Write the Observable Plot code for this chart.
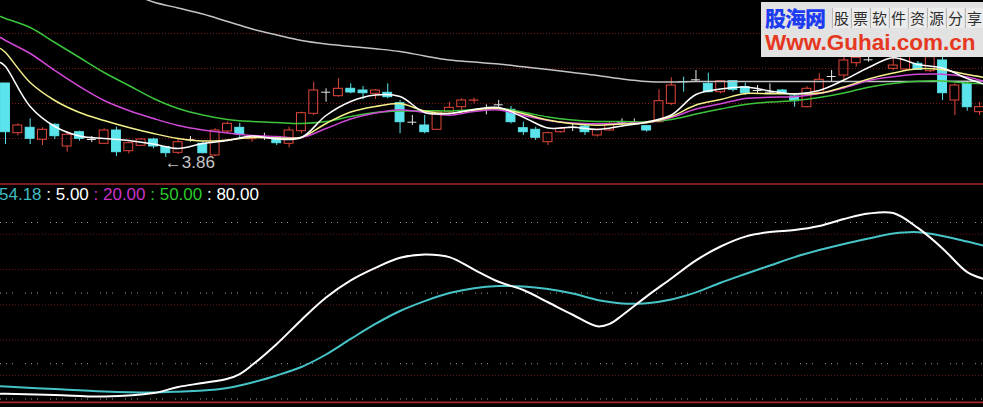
<!DOCTYPE html>
<html><head><meta charset="utf-8">
<script src="https://cdn.jsdelivr.net/npm/d3@7"></script>
<script src="https://cdn.jsdelivr.net/npm/@observablehq/plot@0.6"></script>
<style>
html,body{margin:0;padding:0;background:#000;}
#wrap{position:relative;width:983px;height:407px;overflow:hidden;background:#000;}
#wrap svg{display:block;}
#legend{position:absolute;left:-1px;top:186px;font-family:"Liberation Sans",Arial,sans-serif;font-size:17px;line-height:17px;white-space:pre;color:#fff;}
#wm{position:absolute;left:761px;top:2px;width:222px;height:55px;background:#e2e2e2;}
#wm .a{position:absolute;left:4px;top:5px;font-family:"Noto Sans CJK SC",sans-serif;font-weight:900;font-size:21px;line-height:20px;color:#1d3cf2;letter-spacing:-1px;}
#wm .b{position:absolute;left:71px;top:6px;display:flex;}
#wm .b span{display:block;width:17px;height:20px;margin-right:1px;background:#ececec;border-left:1px solid #b8b8b8;font-family:"Noto Sans CJK SC",sans-serif;font-size:15px;line-height:20px;text-align:center;color:#2c2c2c;}
#wm .c{position:absolute;left:4px;top:29px;font-family:"Liberation Sans",Arial,sans-serif;font-weight:bold;font-size:22.5px;line-height:23px;color:#e6371f;white-space:nowrap;}
</style></head><body><div id="wrap"></div>
<script>
// ---------- data ----------
const open = [4.600,4.103,4.157,4.037,4.187,3.970,4.113,4.040,3.997,4.130,
3.923,3.977,4.040,3.963,3.907,4.037,3.997,3.880,4.120,4.157,
4.043,4.070,4.057,3.997,4.123,4.297,4.513,4.473,4.547,4.530,
4.497,4.507,4.403,4.213,4.180,4.137,4.313,4.363,4.428,4.347,
4.387,4.337,4.153,4.137,4.013,4.113,4.163,4.170,4.080,4.130,
4.213,4.213,4.173,4.213,4.397,4.615,4.637,4.597,4.513,4.623,
4.563,4.530,4.513,4.530,4.470,4.363,4.503,4.670,4.680,4.803,
4.837,4.880,4.747,4.740,4.797,4.723,4.830,4.430,4.597,4.313];
const close = [4.113,4.180,4.047,4.137,4.073,4.087,4.047,4.040,4.130,3.913,
4.003,4.040,3.970,3.903,4.013,4.037,3.903,4.130,4.197,4.090,
4.070,4.070,4.003,4.130,4.303,4.530,4.513,4.547,4.510,4.503,
4.530,4.463,4.213,4.213,4.113,4.313,4.357,4.430,4.430,4.347,
4.387,4.213,4.113,4.057,4.103,4.147,4.163,4.113,4.137,4.197,
4.213,4.213,4.130,4.423,4.580,4.613,4.637,4.513,4.623,4.537,
4.503,4.530,4.513,4.500,4.423,4.547,4.637,4.670,4.830,4.857,
4.837,4.980,4.780,4.910,4.737,4.863,4.503,4.580,4.363,4.363];
const high = [4.600,4.197,4.247,4.157,4.197,4.123,4.123,4.070,4.147,4.163,
4.013,4.047,4.053,3.970,4.047,4.070,4.013,4.147,4.213,4.203,
4.080,4.103,4.070,4.163,4.313,4.613,4.547,4.647,4.597,4.570,
4.540,4.597,4.430,4.280,4.280,4.330,4.413,4.447,4.453,4.387,
4.430,4.370,4.213,4.163,4.113,4.163,4.203,4.180,4.147,4.213,
4.247,4.247,4.180,4.537,4.657,4.663,4.730,4.703,4.623,4.623,
4.603,4.580,4.597,4.540,4.480,4.570,4.697,4.730,4.880,4.897,
4.900,5.030,4.863,4.950,4.820,4.910,4.863,4.597,4.613,4.413];
const low = [3.990,4.077,3.990,3.980,4.040,3.913,4.023,4.010,3.990,3.870,
3.897,3.970,3.947,3.860,3.890,4.013,3.897,3.870,4.097,4.047,
4.013,4.030,3.980,3.957,4.097,4.280,4.413,4.463,4.497,4.437,
4.440,4.447,4.097,4.180,4.097,4.130,4.297,4.323,4.397,4.287,
4.347,4.197,4.080,4.030,3.980,4.103,4.120,4.080,4.063,4.123,
4.180,4.190,4.113,4.203,4.380,4.513,4.613,4.507,4.497,4.513,
4.480,4.497,4.497,4.490,4.363,4.357,4.497,4.613,4.630,4.763,
4.813,4.860,4.730,4.720,4.730,4.710,4.430,4.280,4.323,4.280];

const maIdx = [-0.4,0,2,4,6,8,10,12,14,16,18,20,22,24,26,28,30,32,34,36,38,40,
42,44,46,48,50,52,54,56,58,60,62,64,66,68,70,72,74,76,78,79.3];
const ma5 = [4.81,4.77,4.37,4.17,4.075,4.05,4.03,3.995,3.95,4.00,4.03,4.075,4.045,4.06,4.28,4.42,4.485,4.47,4.31,4.30,4.34,4.36,
4.263,4.155,4.163,4.14,4.175,4.215,4.285,4.49,4.545,4.565,4.525,4.495,4.53,4.635,4.76,4.857,4.79,4.755,4.65,4.597];
const ma10 = [4.95,4.91,4.61,4.43,4.31,4.23,4.16,4.10,4.05,4.025,4.035,4.06,4.055,4.063,4.20,4.315,4.37,4.40,4.325,4.30,4.335,4.35,
4.297,4.235,4.197,4.183,4.196,4.208,4.27,4.385,4.44,4.50,4.497,4.497,4.502,4.565,4.645,4.705,4.747,4.737,4.69,4.663];
const ma20 = [5.06,5.03,4.90,4.73,4.57,4.43,4.33,4.25,4.18,4.135,4.105,4.08,4.07,4.06,4.15,4.245,4.305,4.338,4.31,4.283,4.32,4.335,
4.28,4.23,4.205,4.198,4.203,4.21,4.26,4.345,4.397,4.45,4.463,4.468,4.50,4.555,4.63,4.667,4.692,4.693,4.665,4.623];
const ma60 = [5.27,5.25,5.16,5.01,4.86,4.71,4.58,4.45,4.35,4.285,4.24,4.22,4.21,4.20,4.22,4.27,4.31,4.325,4.328,4.325,4.34,4.352,
4.313,4.265,4.235,4.22,4.22,4.217,4.24,4.295,4.345,4.39,4.414,4.43,4.46,4.505,4.563,4.60,4.622,4.625,4.604,4.597];
const ma250 = [null,null,null,null,null,null,5.51,5.415,5.355,5.295,5.22,5.145,5.085,5.03,4.995,4.97,4.947,4.92,4.875,4.835,4.815,4.795,
4.767,4.74,4.71,4.68,4.645,4.62,4.615,4.62,4.62,4.62,4.62,4.62,4.62,4.62,4.62,4.62,4.62,4.622,4.623,4.625];

const oscIdx = [-0.4,0,4,8,12,14,16,18,19,20,22,24,26,28,30,32,34,36,38,40,42,44,46,48,49,50,
52,54,56,58,60,62,64,66,68,70,72,74,76,78,79.3];
const oscFast = [7.2,7.2,6.7,6.05,7.5,10.1,11.8,13.6,15.6,19.4,28.4,38.6,48.1,55.4,60.7,65.0,66.4,65.3,60.0,54.8,51.3,46.1,40.8,35.9,36.9,40.5,
48.6,56.2,63.9,69.8,74.0,76.0,76.8,78.5,81.5,83.8,84.0,77.7,69.0,58.9,56.1];
const oscSlow = [10.4,10.3,9.2,8.2,7.8,8.1,8.6,9.7,10.7,12.0,15.0,18.6,23.9,30.5,36.9,42.4,46.6,50.0,52.1,53.0,52.8,51.7,49.8,47.1,46.2,45.6,
45.7,47.3,50.3,54.4,58.1,61.7,65.3,68.3,70.9,73.2,75.3,75.9,74.3,71.9,70.2];

const priceGrid = [5.10, 4.75, 4.40, 4.05];
const oscGrid = [15, 30, 45, 60, 75];
const oscLevels = [5, 20, 50, 80];
const legendLabels = ["54.18", "5.00", "20.00", "50.00", "80.00"];
const lowLabel = "3.86";
const wmTitle = "股海网";
const wmSlogan = ["股","票","软","件","资","源","分","享"];
const wmUrl = "Www.Guhai.com.cn";

// ---------- build ----------
const W = 983;
const xDomain = [-0.4055, 79.32];
const RED = "#e4473b", CYAN = "#5ce4ec", DOJI = "#e8e8e8";
const candles = open.map((o, i) => {
  const c = close[i];
  return {i, o, c, h: high[i], l: low[i], top: Math.max(o, c), bot: Math.min(o, c),
    kind: c > o ? "up" : c < o ? "down" : "flat"};
});
const col = d => d.kind === "up" ? RED : d.kind === "down" ? CYAN : DOJI;
const series = (idx, vals) => idx.map((x, k) => ({x, y: vals[k]})).filter(d => d.y != null);
const lowIdx = low.indexOf(d3.min(low));

const topChart = Plot.plot({
  width: W, height: 183, margin: 0,
  x: {domain: xDomain, axis: null},
  y: {domain: [3.60, 5.43], axis: null},
  color: {type: "identity"},
  style: {background: "#000", overflow: "hidden"},
  marks: [
    Plot.ruleY(priceGrid, {stroke: "#7d1616", strokeDasharray: "1,2"}),
    Plot.ruleX(candles, {x: "i", y1: "h", y2: "top", stroke: col}),
    Plot.ruleX(candles, {x: "i", y1: "bot", y2: "l", stroke: col}),
    Plot.rect(candles.filter(d => d.kind === "down"), {x1: d => d.i - 0.36, x2: d => d.i + 0.36, y1: "o", y2: "c", fill: CYAN, stroke: CYAN}),
    Plot.rect(candles.filter(d => d.kind === "up"), {x1: d => d.i - 0.36, x2: d => d.i + 0.36, y1: "o", y2: "c", fill: "none", stroke: RED}),
    Plot.ruleY(candles.filter(d => d.kind === "flat"), {y: "o", x1: d => d.i - 0.36, x2: d => d.i + 0.36, stroke: DOJI}),
    Plot.line(series(maIdx, ma250), {x: "x", y: "y", stroke: "#c4c4c4", curve: "catmull-rom", clip: true}),
    Plot.line(series(maIdx, ma60), {x: "x", y: "y", stroke: "#3cc43c", curve: "catmull-rom", clip: true}),
    Plot.line(series(maIdx, ma20), {x: "x", y: "y", stroke: "#d048d8", curve: "catmull-rom", clip: true}),
    Plot.line(series(maIdx, ma10), {x: "x", y: "y", stroke: "#f4f08c", curve: "catmull-rom", clip: true}),
    Plot.line(series(maIdx, ma5), {x: "x", y: "y", stroke: "#ffffff", curve: "catmull-rom", clip: true}),
    Plot.text([{x: lowIdx, y: low[lowIdx]}], {x: "x", y: "y", text: () => "←" + lowLabel, textAnchor: "start", dx: -1, dy: 5, fill: "#c4c4c4", fontSize: 17, fontFamily: "Liberation Sans, Arial, sans-serif"})
  ]
});

const bottomChart = Plot.plot({
  width: W, height: 224, margin: 0,
  x: {domain: xDomain, axis: null},
  y: {domain: [1.376, 96.575], axis: null},
  style: {background: "#000", overflow: "hidden"},
  marks: [
    Plot.ruleY(oscGrid, {stroke: "#6e1616", strokeDasharray: "1,2"}),
    Plot.ruleY(oscLevels, {stroke: "#9a9a9a", strokeDasharray: "1,5,1,5,1,12"}),
    Plot.ruleY([96.35, 3.55], {stroke: "#a32a2a", strokeWidth: 1.6}),
    Plot.line(series(oscIdx, oscSlow), {x: "x", y: "y", stroke: "#46c4c8", strokeWidth: 2, curve: "catmull-rom"}),
    Plot.line(series(oscIdx, oscFast), {x: "x", y: "y", stroke: "#ffffff", strokeWidth: 2, curve: "catmull-rom"})
  ]
});

const wrap = document.getElementById("wrap");
wrap.append(topChart, bottomChart);

const legendColors = ["#3fbcc2", "#ffffff", "#c834c8", "#2cc82c", "#ffffff"];
const legend = document.createElement("div");
legend.id = "legend";
legendLabels.forEach((t, k) => {
  const s = document.createElement("span");
  s.style.color = legendColors[k];
  s.textContent = (k === 0 ? "" : " : ") + t;
  legend.appendChild(s);
});
wrap.appendChild(legend);

const wm = document.createElement("div");
wm.id = "wm";
const a = document.createElement("div"); a.className = "a"; a.textContent = wmTitle; wm.appendChild(a);
const b = document.createElement("div"); b.className = "b";
wmSlogan.forEach(ch => { const s = document.createElement("span"); s.textContent = ch; b.appendChild(s); });
wm.appendChild(b);
const c = document.createElement("div"); c.className = "c"; c.textContent = wmUrl; wm.appendChild(c);
wrap.appendChild(wm);
</script></body></html>
